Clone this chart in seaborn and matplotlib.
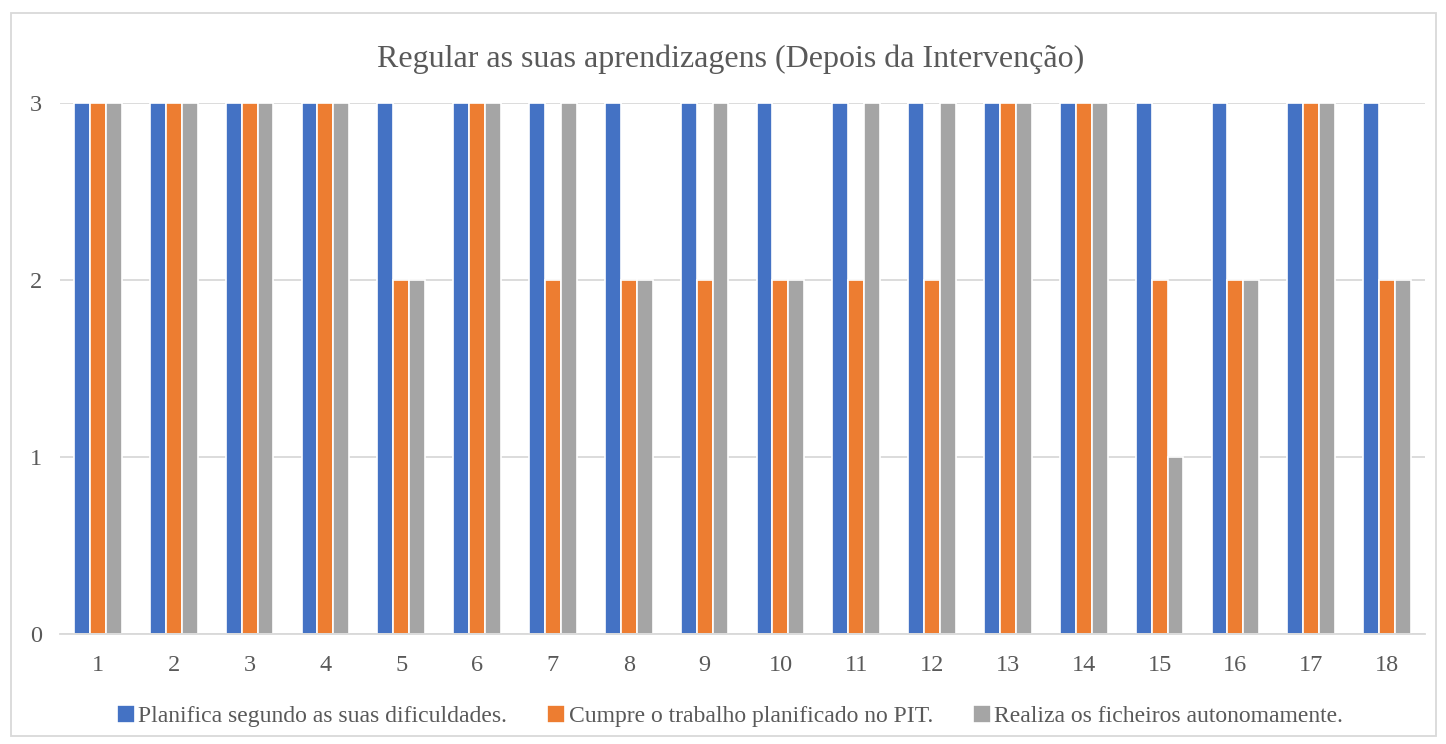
import matplotlib
matplotlib.use("Agg")
import matplotlib.pyplot as plt
import pandas as pd
import seaborn as sns
from matplotlib.patches import Rectangle

# ── Data ───────────────────────────────────────────────────────────────────────
alunos = [str(i) for i in range(1, 19)]
series_names = [
    "Planifica segundo as suas dificuldades.",
    "Cumpre o trabalho planificado no PIT.",
    "Realiza os ficheiros autonomamente.",
]
planifica = [3, 3, 3, 3, 3, 3, 3, 3, 3, 3, 3, 3, 3, 3, 3, 3, 3, 3]
cumpre    = [3, 3, 3, 3, 2, 3, 2, 2, 2, 2, 2, 2, 3, 3, 2, 2, 3, 2]
realiza   = [3, 3, 3, 3, 2, 3, 3, 2, 3, 2, 3, 3, 3, 3, 1, 2, 3, 2]
colors = ["#4472C4", "#ED7D31", "#A5A5A5"]

df = pd.DataFrame({"aluno": alunos, series_names[0]: planifica,
                   series_names[1]: cumpre, series_names[2]: realiza})
long_df = df.melt(id_vars="aluno", var_name="serie", value_name="valor")

# ── Plot ───────────────────────────────────────────────────────────────────────
sns.set_style("white")
plt.rcParams["font.family"] = ["Liberation Serif", "DejaVu Serif"]
text_col = "#595959"

fig = plt.figure(figsize=(14.46, 7.44), dpi=100)
ax = fig.add_axes([0.0415, 0.1478, 0.944, 0.7138])

sns.barplot(data=long_df, x="aluno", y="valor", hue="serie", order=alunos,
            hue_order=series_names, palette=colors, width=0.63,
            edgecolor="white", linewidth=1.2, saturation=1, ax=ax)

ax.set_ylim(0, 3)
ax.set_yticks([0, 1, 2, 3])
ax.yaxis.grid(True, color="#D9D9D9", linewidth=1.3)
ax.set_axisbelow(True)
for side in ["top", "right", "left"]:
    ax.spines[side].set_visible(False)
ax.spines["bottom"].set_color("#D9D9D9")
ax.spines["bottom"].set_linewidth(1.3)
ax.tick_params(axis="both", length=0, labelsize=17.5, colors=text_col)
ax.tick_params(axis="x", pad=15)
ax.tick_params(axis="y", pad=13)
ax.set_xlabel("")
ax.set_ylabel("")

fig.text(0.5055, 0.921, "Regular as suas aprendizagens (Depois da Intervenção)",
         ha="center", va="center", fontsize=23, color=text_col)

handles, labels = ax.get_legend_handles_labels()
ax.legend(handles, labels, loc="center", bbox_to_anchor=(0.491, -0.155),
          ncol=3, frameon=False, fontsize=17, handlelength=0.75,
          handleheight=0.75, handletextpad=0.15, columnspacing=1.7,
          labelcolor=text_col)

fig.patches.append(Rectangle((11 / 1446, 8 / 744), 1425 / 1446, 723 / 744,
                             transform=fig.transFigure, fill=False,
                             edgecolor="#D9D9D9", linewidth=1.3))

fig.savefig("out.png", dpi=100)
plt.close(fig)
